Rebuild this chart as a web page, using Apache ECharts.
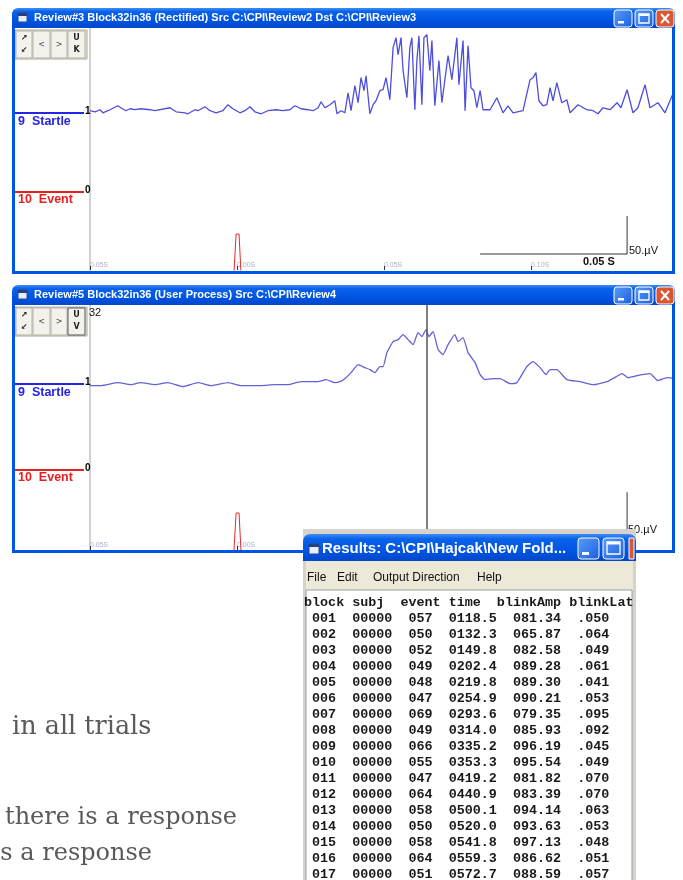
<!DOCTYPE html>
<html>
<head>
<meta charset="utf-8">
<script src="https://cdn.jsdelivr.net/npm/echarts@6/dist/echarts.min.js"></script>
<style>
  html, body { margin: 0; padding: 0; background: #fff; }
  #container { width: 683px; height: 880px; }
</style>
</head>
<body>
<div id="container"></div>
<script>
// Review#3 (rectified) startle trace: time in ms, amplitude in µV
var topMs = [-50.0,-48.3,-46.6,-45.6,-43.9,-40.5,-39.5,-37.8,-36.4,-34.7,-32.7,-29.6,-27.9,-22.8,-20.7,-17.7,-16.7,-14.3,-13.3,-10.9,
  -9.2,-7.1,-4.8,-3.1,-1.4,1.0,2.7,4.4,6.1,8.2,10.5,13.3,15.6,18.0,19.7,21.8,24.1,25.9,27.6,28.6,
  29.9,31.6,33.3,34.0,35.4,36.7,37.8,38.8,40.1,41.2,42.2,43.2,43.9,45.2,46.3,47.3,48.6,49.7,50.7,52.0,
  53.1,54.1,54.8,55.8,56.5,57.8,58.8,59.5,60.5,61.2,61.9,62.9,63.6,64.6,65.6,66.3,67.3,68.7,69.7,71.8,
  73.1,74.8,75.5,76.9,77.6,78.6,79.6,80.6,81.6,82.7,83.7,86.1,88.4,90.5,92.2,93.9,97.3,99.7,100.7,101.7,
  102.7,104.1,105.4,106.5,107.5,108.8,110.5,112.2,113.3,116.0,119.0,121.1,122.8,124.5,126.9,129.3,130.6,132.7,134.7,136.4,
  138.8,140.5,143.2,145.6,148.0,149.0];
var topUv = [5.3,3.9,6.6,2.6,5.3,11.8,9.2,5.3,7.9,6.6,7.9,6.6,5.3,9.2,3.9,2.6,1.3,6.6,5.3,10.5,
  5.3,2.6,5.3,13.2,7.9,2.6,5.3,10.5,3.9,1.3,5.3,6.6,5.3,6.6,11.8,7.9,6.6,5.3,9.2,17.1,
  9.2,13.2,18.4,1.3,5.3,2.6,28.9,5.3,38.2,15.8,48.7,31.6,51.3,1.3,13.2,18.4,31.6,32.9,48.7,19.7,
  88.2,101.3,78.9,101.3,57.9,22.4,88.2,101.3,6.6,71.1,103.9,13.2,101.3,105.3,57.9,97.4,11.8,71.1,15.8,77.6,
  46.1,101.3,39.5,97.4,5.3,90.8,35.5,31.6,9.2,31.6,6.6,6.6,22.4,2.6,11.8,2.6,5.3,46.1,48.7,55.3,
  18.4,11.8,13.2,35.5,18.4,42.1,15.8,19.7,2.6,13.2,6.6,5.3,1.3,9.2,6.6,15.8,9.2,32.9,2.6,9.2,
  39.5,9.2,15.8,2.6,25.0,26.3];

// Review#5 (user process, smoothed) startle trace
var botMs = [-50.0,-46.3,-40.5,-36.1,-32.7,-27.9,-23.5,-18.4,-13.3,-8.8,-3.1,1.4,8.2,12.9,17.3,21.8,27.6,30.3,33.3,35.0,
  37.1,38.8,41.2,43.5,45.2,46.9,48.6,49.7,51.0,53.1,54.8,56.5,58.2,59.9,61.6,62.9,64.3,65.3,66.7,68.4,
  70.1,71.8,74.1,75.2,76.9,78.6,81.0,82.7,84.4,87.1,89.5,92.9,95.2,98.6,100.7,103.1,105.1,106.5,108.8,112.2,
  116.7,121.1,125.9,127.9,131.0,133.0,136.1,140.5,143.2,146.3,149.0];
var botUv = [0,0,3.9,1.3,3.9,1.3,3.9,-1.3,3.9,0,3.9,0,0,1.3,1.3,5.3,5.3,7.9,3.9,5.3,
  10.5,17.1,27.6,23.7,21.1,17.1,25.0,25.0,43.4,57.9,60.5,67.1,60.5,53.9,69.7,64.5,73.7,64.5,71.1,47.4,
  40.8,53.9,67.1,57.9,63.2,43.4,30.3,14.5,7.9,9.2,9.2,2.6,3.9,25.0,31.6,23.7,14.5,21.1,21.1,7.9,
  5.3,1.3,5.3,9.2,15.8,10.5,13.2,15.8,6.6,10.5,9.2];

// event channel (probe onset at 0 ms)
var eventMs = [-50, -1.4, -0.3, 0.7, 1.7, 149];
var eventTop = [-100, -100, -42, -42, -100, -100];
var eventBot = [-100, -100, -43, -43, -100, -100];

var cursorMs = 64.6;
var scaleMs = [82.7, 132.7, 132.7];
var scaleTopUv = [-183, -183, -133];
var scaleBotUv = [-190, -190, -140];

// results table
var blocks = ['001','002','003','004','005','006','007','008','009','010','011','012','013','014','015','016','017'];
var subjs = ['00000','00000','00000','00000','00000','00000','00000','00000','00000','00000','00000','00000','00000','00000','00000','00000','00000'];
var events = ['057','050','052','049','048','047','069','049','066','055','047','064','058','050','058','064','051'];
var times = ['0118.5','0132.3','0149.8','0202.4','0219.8','0254.9','0293.6','0314.0','0335.2','0353.3','0419.2','0440.9','0500.1','0520.0','0541.8','0559.3','0572.7'];
var blinkAmp = ['081.34','065.87','082.58','089.28','089.30','090.21','079.35','085.93','096.19','095.54','081.82','083.39','094.14','093.63','097.13','086.62','088.59'];
var blinkLat = ['.050','.064','.049','.061','.041','.053','.095','.092','.045','.049','.070','.070','.063','.053','.048','.051','.057'];

var tableText = ['block subj  event time  blinkAmp blinkLat'].concat(blocks.map(function (b, i) {
  return ' ' + b + '  ' + subjs[i] + '  ' + events[i] + '  ' + times[i] + '  ' + blinkAmp[i] + '  ' + blinkLat[i];
})).join('\n');

function pairs(xs, ys) { return xs.map(function (x, i) { return [x, ys[i]]; }); }

var XPBLUE = '#0054e3';
var sans = "'Liberation Sans',Arial,sans-serif";
function titleGrad() {
  return new echarts.graphic.LinearGradient(0, 0, 0, 1, [
    {offset: 0, color: '#3d8ff7'}, {offset: 0.18, color: '#0a62ea'},
    {offset: 0.6, color: '#0055e2'}, {offset: 1, color: '#0247cc'}]);
}
function btnGrad() {
  return new echarts.graphic.LinearGradient(0, 0, 1, 1, [
    {offset: 0, color: '#5a9cf8'}, {offset: 1, color: '#1a5fe0'}]);
}

function titleButtons(x, y, s, gap, withClose) {
  var els = [];
  els.push({type: 'rect', z: 102, shape: {x: x, y: y, width: s, height: s - 1, r: 3}, style: {fill: btnGrad(), stroke: '#fff', lineWidth: 1}});
  els.push({type: 'rect', z: 103, shape: {x: x + 4, y: y + s - 7, width: 6, height: 2.5}, style: {fill: '#fff'}});
  els.push({type: 'rect', z: 102, shape: {x: x + s + gap, y: y, width: s, height: s - 1, r: 3}, style: {fill: btnGrad(), stroke: '#fff', lineWidth: 1}});
  els.push({type: 'rect', z: 103, shape: {x: x + s + gap + 4, y: y + 4, width: s - 8, height: s - 9}, style: {fill: 'none', stroke: '#fff', lineWidth: 1.3}});
  els.push({type: 'rect', z: 103, shape: {x: x + s + gap + 4, y: y + 4, width: s - 8, height: 2}, style: {fill: '#fff'}});
  if (withClose) {
    var cx = x + 2 * (s + gap);
    els.push({type: 'rect', z: 102, shape: {x: cx, y: y, width: s, height: s - 1, r: 3}, style: {fill: '#dd5630', stroke: '#fff', lineWidth: 1}});
    els.push({type: 'line', z: 103, shape: {x1: cx + 5, y1: y + 4, x2: cx + s - 5, y2: y + s - 5}, style: {stroke: '#fff', lineWidth: 2}});
    els.push({type: 'line', z: 103, shape: {x1: cx + s - 5, y1: y + 4, x2: cx + 5, y2: y + s - 5}, style: {stroke: '#fff', lineWidth: 2}});
  }
  return els;
}

function reviewWindow(x, y, w, h, title, gridTop, startleY, eventY, b4) {
  var els = [
    {type: 'rect', z: 100, shape: {x: x, y: y, width: w, height: gridTop - y, r: [6, 6, 0, 0]}, style: {fill: titleGrad()}},
    {type: 'rect', z: 100, shape: {x: x, y: gridTop, width: 3, height: y + h - gridTop}, style: {fill: XPBLUE}},
    {type: 'rect', z: 100, shape: {x: x + w - 3, y: gridTop, width: 3, height: y + h - gridTop}, style: {fill: XPBLUE}},
    {type: 'rect', z: 100, shape: {x: x, y: y + h - 3, width: w, height: 3}, style: {fill: XPBLUE}},
    {type: 'rect', z: 101, shape: {x: x + 6, y: y + 5, width: 9, height: 9}, style: {fill: '#e8eef8', stroke: '#254a9a', lineWidth: 1}},
    {type: 'rect', z: 101, shape: {x: x + 6, y: y + 5, width: 9, height: 3}, style: {fill: '#2a3f80'}},
    {type: 'text', z: 101, x: x + 22, y: y + 10, style: {text: title, fill: '#fff', fontSize: 11, fontWeight: 'bold', fontFamily: sans, verticalAlign: 'middle'}},
    // toolbar
    {type: 'rect', z: 50, shape: {x: x + 3, y: gridTop + 2, width: 72, height: 29}, style: {fill: '#ece9d8', stroke: '#a8a69a', lineWidth: 1}},
    // channel markers
    {type: 'line', z: 50, shape: {x1: x + 2, y1: startleY, x2: x + 72, y2: startleY}, style: {stroke: '#2525e6', lineWidth: 2}},
    {type: 'text', z: 50, x: x + 73, y: startleY - 2, style: {text: '1', fill: '#000', fontSize: 10, fontWeight: 'bold', fontFamily: sans, verticalAlign: 'middle'}},
    {type: 'text', z: 50, x: x + 6, y: startleY + 9, style: {text: '9  Startle', fill: '#2525e6', fontSize: 12.5, fontWeight: 'bold', fontFamily: sans, verticalAlign: 'middle'}},
    {type: 'line', z: 50, shape: {x1: x + 2, y1: eventY, x2: x + 72, y2: eventY}, style: {stroke: '#e62020', lineWidth: 2}},
    {type: 'text', z: 50, x: x + 73, y: eventY - 2, style: {text: '0', fill: '#000', fontSize: 10, fontWeight: 'bold', fontFamily: sans, verticalAlign: 'middle'}},
    {type: 'text', z: 50, x: x + 6, y: eventY + 8, style: {text: '10  Event', fill: '#e62020', fontSize: 12.5, fontWeight: 'bold', fontFamily: sans, verticalAlign: 'middle'}}
  ];
  var bx = [x + 4, x + 21, x + 39, x + 56];
  var bw = [16, 17, 16, 17];
  var glyphs = [['\u2197', '\u2199'], ['<'], ['>'], b4];
  bx.forEach(function (b, i) {
    els.push({type: 'rect', z: 51, shape: {x: b, y: gridTop + 3, width: bw[i], height: 27}, style: {fill: '#f3f2ec', stroke: (i === 3 && b4[1] === 'V') ? '#555' : '#b5b3a8', lineWidth: 1}});
    var g = glyphs[i];
    if (g.length === 1) {
      els.push({type: 'text', z: 52, x: b + bw[i] / 2, y: gridTop + 17, style: {text: g[0], fill: '#444', fontSize: 8, fontFamily: 'DejaVu Sans', align: 'center', verticalAlign: 'middle'}});
    } else {
      els.push({type: 'text', z: 52, x: b + bw[i] / 2, y: gridTop + 10, style: {text: g[0], fill: '#222', fontSize: 8, fontWeight: 'bold', fontFamily: 'DejaVu Sans', align: 'center', verticalAlign: 'middle'}});
      els.push({type: 'text', z: 52, x: b + bw[i] / 2, y: gridTop + 22, style: {text: g[1], fill: '#222', fontSize: 8, fontWeight: 'bold', fontFamily: 'DejaVu Sans', align: 'center', verticalAlign: 'middle'}});
    }
  });
  return els.concat(titleButtons(x + w - 61, y + 2, 18, 3, true));
}

var graphics = [];
graphics = graphics.concat(reviewWindow(12, 8, 663, 266,
  'Review#3 Block32in36 (Rectified) Src C:\\CPI\\Review2 Dst C:\\CPI\\Review3', 28, 113, 192, ['U', 'K']));
graphics = graphics.concat(reviewWindow(12, 285, 663, 268,
  'Review#5 Block32in36 (User Process) Src C:\\CPI\\Review4', 305, 384, 470, ['U', 'V']));

// scale bar labels and trial number
graphics.push({type: 'text', z: 60, x: 629, y: 251, style: {text: '50.\u00b5V', fill: '#111', fontSize: 11, fontFamily: sans, verticalAlign: 'middle'}});
graphics.push({type: 'text', z: 60, x: 583, y: 262, style: {text: '0.05 S', fill: '#111', fontSize: 11, fontWeight: 'bold', fontFamily: sans, verticalAlign: 'middle'}});
graphics.push({type: 'text', z: 60, x: 628, y: 530, style: {text: '50.\u00b5V', fill: '#111', fontSize: 11, fontFamily: sans, verticalAlign: 'middle'}});
graphics.push({type: 'text', z: 60, x: 89, y: 313, style: {text: '32', fill: '#111', fontSize: 11, fontFamily: sans, verticalAlign: 'middle'}});

// Results window
var RX = 303, RY = 534, RW = 333;
graphics.push(
  {type: 'rect', z: 110, shape: {x: RX, y: RY - 5, width: RW, height: 360}, style: {fill: '#d5d3cc'}},
  {type: 'rect', z: 111, shape: {x: RX, y: RY, width: RW, height: 27, r: [7, 7, 0, 0]}, style: {fill: titleGrad()}},
  {type: 'rect', z: 112, shape: {x: RX + 6, y: RY + 10, width: 10, height: 10}, style: {fill: '#e8eef8', stroke: '#254a9a', lineWidth: 1}},
  {type: 'rect', z: 112, shape: {x: RX + 6, y: RY + 10, width: 10, height: 3}, style: {fill: '#2a3f80'}},
  {type: 'text', z: 112, x: RX + 19, y: RY + 15, style: {text: 'Results: C:\\CPI\\Hajcak\\New Fold...', fill: '#fff', fontSize: 15, fontWeight: 'bold', fontFamily: sans, verticalAlign: 'middle'}},
  {type: 'rect', z: 111, shape: {x: RX + 3, y: RY + 27, width: RW - 6, height: 29}, style: {fill: '#ece9d8'}},
  {type: 'rect', z: 111, shape: {x: RX + 3, y: RY + 56, width: RW - 7, height: 300}, style: {fill: '#fff', stroke: '#9d9d9d', lineWidth: 1}},
  {type: 'text', z: 112, x: RX + 1, y: RY + 61, style: {text: tableText, fill: '#1a1a1a', fontSize: 13.4, fontWeight: 'bold', fontFamily: 'Liberation Mono', lineHeight: 16}}
);
[['File', 307], ['Edit', 337], ['Output Direction', 373], ['Help', 477]].forEach(function (m) {
  graphics.push({type: 'text', z: 112, x: m[1], y: RY + 44, style: {text: m[0], fill: '#111', fontSize: 12, fontFamily: sans, verticalAlign: 'middle'}});
});
graphics.push(
  {type: 'rect', z: 112, shape: {x: 578, y: RY + 4, width: 21, height: 21, r: 3}, style: {fill: btnGrad(), stroke: '#fff', lineWidth: 1}},
  {type: 'rect', z: 113, shape: {x: 582, y: RY + 18, width: 7, height: 3}, style: {fill: '#fff'}},
  {type: 'rect', z: 112, shape: {x: 603, y: RY + 4, width: 21, height: 21, r: 3}, style: {fill: btnGrad(), stroke: '#fff', lineWidth: 1}},
  {type: 'rect', z: 113, shape: {x: 607, y: RY + 8, width: 13, height: 12}, style: {fill: 'none', stroke: '#fff', lineWidth: 1.3}},
  {type: 'rect', z: 113, shape: {x: 607, y: RY + 8, width: 13, height: 2.5}, style: {fill: '#fff'}},
  {type: 'rect', z: 112, shape: {x: 629, y: RY + 4, width: 5, height: 21}, style: {fill: '#dd5630', stroke: '#fff', lineWidth: 1}}
);

// page text behind the windows
var serif = "'DejaVu Serif','Liberation Serif',serif";
graphics.push(
  {type: 'text', z: 5, x: 12, y: 727, style: {text: 'in all trials', fill: '#5a5a5a', fontSize: 25.5, fontFamily: serif, verticalAlign: 'middle'}},
  {type: 'text', z: 5, x: 5, y: 818, style: {text: 'there is a response', fill: '#5a5a5a', fontSize: 24, fontFamily: serif, verticalAlign: 'middle'}},
  {type: 'text', z: 5, x: 152, y: 854, style: {text: 'as a response', fill: '#5a5a5a', fontSize: 24, fontFamily: serif, align: 'right', verticalAlign: 'middle'}}
);

function xAxisFor(gi, labels) {
  return {
    gridIndex: gi, type: 'value', min: -50, max: 149, interval: 50,
    axisLine: {show: false, onZero: false}, splitLine: {show: false},
    axisTick: {show: true, inside: true, length: 4, lineStyle: {color: '#333'}},
    axisLabel: {show: labels, inside: true, margin: 1, align: 'left', showMaxLabel: false,
      color: '#a9b0c8', fontSize: 7, fontFamily: sans,
      formatter: function (v) { return Math.abs(v / 1000).toFixed(2) + 'S'; }}
  };
}
function yAxisFor(gi, min, max, line) {
  return {
    gridIndex: gi, type: 'value', min: min, max: max,
    axisLine: {show: line, onZero: false, lineStyle: {color: '#c2c2c2', width: 1.5}},
    axisTick: {show: false}, axisLabel: {show: false}, splitLine: {show: false}
  };
}

var dom = document.getElementById('container');
var myChart = echarts.init(dom);
var option = {
  animation: false,
  backgroundColor: '#fff',
  grid: [
    {left: 90, top: 28, width: 585, height: 242},
    {left: 90, top: 305, width: 585, height: 245}
  ],
  xAxis: [xAxisFor(0, true), xAxisFor(1, true)],
  yAxis: [
    yAxisFor(0, -204, 114, true),
    yAxisFor(0, -78, 164, false),
    yAxisFor(1, -216, 106, true),
    yAxisFor(1, -80, 165, false)
  ],
  series: [
    {type: 'line', name: 'Startle (rectified)', xAxisIndex: 0, yAxisIndex: 0, data: pairs(topMs, topUv),
      symbol: 'none', lineStyle: {color: '#4e4edc', width: 1.3}, z: 3},
    {type: 'line', name: 'Event', xAxisIndex: 0, yAxisIndex: 1, data: pairs(eventMs, eventTop),
      symbol: 'none', lineStyle: {color: '#e42a2a', width: 1}, z: 3},
    {type: 'line', name: 'scale', xAxisIndex: 0, yAxisIndex: 0, data: pairs(scaleMs, scaleTopUv),
      symbol: 'none', lineStyle: {color: '#333', width: 1}, z: 3},
    {type: 'line', name: 'Startle (processed)', xAxisIndex: 1, yAxisIndex: 2, data: pairs(botMs, botUv),
      symbol: 'none', smooth: 0.15, lineStyle: {color: '#6262d8', width: 1.3}, z: 3,
      markLine: {silent: true, symbol: ['none', 'none'], label: {show: false},
        lineStyle: {color: '#555', width: 1.5, type: 'solid'}, data: [{xAxis: cursorMs}]}},
    {type: 'line', name: 'Event 2', xAxisIndex: 1, yAxisIndex: 3, data: pairs(eventMs, eventBot),
      symbol: 'none', lineStyle: {color: '#e42a2a', width: 1}, z: 3},
    {type: 'line', name: 'scale 2', xAxisIndex: 1, yAxisIndex: 2, data: pairs(scaleMs, scaleBotUv),
      symbol: 'none', lineStyle: {color: '#333', width: 1}, z: 3}
  ],
  graphic: {elements: graphics}
};
myChart.setOption(option, true);
</script>
</body>
</html>
